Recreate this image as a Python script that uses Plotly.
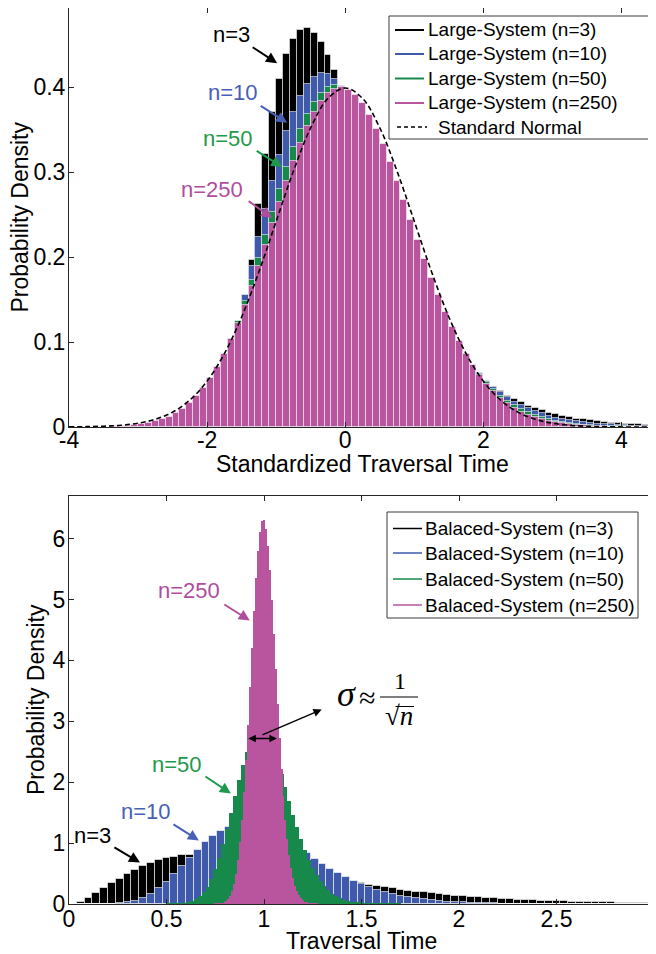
import plotly.graph_objects as go

# ---------------- data: top panel (standardized traversal time, bins of 0.1) ----------------
top_bin_width = 0.1
top_centers = [round(-3.95 + 0.1 * i, 2) for i in range(85)]

large_n3 = [
    0, 0, 0, 0, 0, 0, 0, 0, 0, 0, 0, 0, 0, 0, 0, 0, 0, 0, 0, 0, 0, 0,
    0.000, 0.015, 0.063, 0.127, 0.196, 0.262, 0.321, 0.371, 0.410, 0.439,
    0.457, 0.467, 0.469, 0.464, 0.453, 0.438, 0.420, 0.399,
    0.376, 0.353, 0.330, 0.306, 0.283, 0.260, 0.238, 0.217, 0.198, 0.180,
    0.162, 0.147, 0.132, 0.119, 0.106, 0.095, 0.085, 0.076, 0.067, 0.060,
    0.053, 0.047, 0.042, 0.037, 0.033, 0.029, 0.025, 0.022, 0.020, 0.017,
    0.015, 0.013, 0.012, 0.010, 0.009, 0.008, 0.007, 0.006, 0.005, 0.0045,
    0.004, 0.0034, 0.003, 0.0026, 0.0022]

large_n10 = [
    0, 0, 0, 0, 0, 0, 0, 0, 0, 0, 0, 0, 0, 0, 0,
    0.001, 0.003, 0.007, 0.013, 0.021,
    0.034, 0.050, 0.071, 0.096, 0.124, 0.155, 0.189, 0.223, 0.257, 0.290,
    0.320, 0.348, 0.371, 0.390, 0.404, 0.412, 0.416, 0.415, 0.410, 0.401,
    0.388, 0.373, 0.355, 0.336, 0.316, 0.294, 0.273, 0.251, 0.229, 0.209,
    0.189, 0.170, 0.152, 0.136, 0.121, 0.107, 0.094, 0.082, 0.072, 0.063,
    0.054, 0.047, 0.041, 0.035, 0.030, 0.026, 0.022, 0.019, 0.016, 0.013,
    0.011, 0.009, 0.008, 0.007, 0.006, 0.005, 0.004, 0.003, 0.003, 0.002,
    0.002, 0.0015, 0.0012, 0.001, 0.0008]

large_n50 = [
    0, 0, 0, 0, 0, 0,
    0.0002, 0.0003, 0.0005, 0.0009,
    0.0015, 0.0024, 0.0037, 0.0056, 0.0082, 0.0118, 0.0167, 0.0229, 0.0309, 0.0408,
    0.0528, 0.0672, 0.0839, 0.1030, 0.1243, 0.1477, 0.1728, 0.1991, 0.2262, 0.2535,
    0.2801, 0.3056, 0.3290, 0.3502, 0.3681, 0.3826, 0.3933, 0.3999, 0.4023, 0.4006,
    0.3949, 0.3857, 0.3731, 0.3576, 0.3397, 0.3200, 0.2989, 0.2768, 0.2544, 0.2320,
    0.2099, 0.1885, 0.1680, 0.1488, 0.1308, 0.1143, 0.0992, 0.0855, 0.0732, 0.0623,
    0.0527, 0.0444, 0.0370, 0.0308, 0.0254, 0.0209, 0.0171, 0.0139, 0.0113, 0.0090,
    0.0072, 0.0058, 0.0045, 0.0036, 0.0028, 0.0022, 0.0017, 0.0013, 0.0011, 0.0008,
    0.0006, 0.0005, 0.0004, 0.0003, 0.0002]

large_n250 = [
    0.0000, 0.0001, 0.0001, 0.0002, 0.0003, 0.0004, 0.0007, 0.0011, 0.0016, 0.0023,
    0.0033, 0.0048, 0.0067, 0.0091, 0.0123, 0.0165, 0.0217, 0.0282, 0.0363, 0.0458,
    0.0572, 0.0705, 0.0858, 0.1030, 0.1222, 0.1432, 0.1659, 0.1897, 0.2146, 0.2399,
    0.2652, 0.2898, 0.3131, 0.3347, 0.3539, 0.3702, 0.3832, 0.3927, 0.3981, 0.3995,
    0.3970, 0.3907, 0.3807, 0.3673, 0.3511, 0.3324, 0.3119, 0.2899, 0.2670, 0.2438,
    0.2206, 0.1978, 0.1759, 0.1551, 0.1356, 0.1176, 0.1011, 0.0862, 0.0730, 0.0612,
    0.0510, 0.0422, 0.0345, 0.0281, 0.0226, 0.0181, 0.0145, 0.0114, 0.0090, 0.0069,
    0.0054, 0.0042, 0.0031, 0.0025, 0.0018, 0.0013, 0.0010, 0.0007, 0.0005, 0.0004,
    0.0003, 0.0002, 0.0001, 0.0001, 0.0001]

normal_x = [-4, -3.75, -3.5, -3.25, -3, -2.75, -2.5, -2.25, -2, -1.75, -1.5, -1.25, -1,
            -0.75, -0.5, -0.25, 0, 0.25, 0.5, 0.75, 1, 1.25, 1.5, 1.75, 2, 2.25, 2.5,
            2.75, 3, 3.25, 3.5, 3.75, 4, 4.25, 4.5]
normal_y = [0.0001, 0.0004, 0.0009, 0.0020, 0.0044, 0.0091, 0.0175, 0.0317, 0.0540, 0.0863,
            0.1295, 0.1826, 0.2420, 0.3011, 0.3521, 0.3867, 0.3989, 0.3867, 0.3521, 0.3011,
            0.2420, 0.1826, 0.1295, 0.0863, 0.0540, 0.0317, 0.0175, 0.0091, 0.0044, 0.0020,
            0.0009, 0.0004, 0.0001, 0.0000, 0.0000]

# ---------------- data: bottom panel (traversal time) ----------------
bal_wide_width = 0.04
bal_wide_centers = [round(0.02 + 0.04 * i, 2) for i in range(75)]
balanced_n3 = [
    0.005, 0.041, 0.100, 0.174, 0.255, 0.338, 0.418, 0.494, 0.563, 0.623,
    0.676, 0.719, 0.753, 0.779, 0.797, 0.808, 0.812, 0.810, 0.803, 0.791,
    0.775, 0.757, 0.735, 0.711, 0.686, 0.659, 0.631, 0.603, 0.574, 0.545,
    0.516, 0.489, 0.461, 0.436, 0.409, 0.384, 0.360, 0.338, 0.315, 0.295,
    0.275, 0.256, 0.238, 0.221, 0.205, 0.190, 0.176, 0.163, 0.151, 0.139,
    0.129, 0.119, 0.110, 0.101, 0.093, 0.085, 0.079, 0.072, 0.066, 0.061,
    0.056, 0.051, 0.047, 0.043, 0.039, 0.036, 0.033, 0.030, 0.027, 0.025,
    0.023, 0.021, 0.019, 0.017, 0.016]
balanced_n10 = [
    0, 0, 0, 0.0001, 0.0009, 0.0037, 0.011, 0.027, 0.056, 0.102,
    0.168, 0.255, 0.363, 0.486, 0.620, 0.757, 0.891, 1.014, 1.121, 1.207,
    1.269, 1.306, 1.318, 1.306, 1.274, 1.224, 1.160, 1.085, 1.003, 0.918,
    0.830, 0.744, 0.660, 0.582, 0.508, 0.440, 0.379, 0.324, 0.275, 0.233,
    0.195, 0.163, 0.135, 0.112, 0.092, 0.075, 0.061, 0.050, 0.040, 0.032,
    0.026, 0.021, 0.017, 0.013, 0.010, 0.008, 0.0065, 0.005, 0.004, 0.003,
    0.0024, 0.0019, 0.0015, 0.0011, 0.0009, 0.0007, 0.0005, 0.0004, 0.0003, 0.0002,
    0.0002, 0.0001, 0.0001, 0.0001, 0.0001]

bal_n50_width = 0.02
bal_n50_centers = [round(0.51 + 0.02 * i, 2) for i in range(60)]
balanced_n50 = [
    0.0006, 0.0014, 0.0032, 0.0067, 0.0133, 0.0251, 0.0448, 0.0763, 0.124, 0.193,
    0.287, 0.412, 0.571, 0.762, 0.985, 1.234, 1.499, 1.772, 2.036, 2.282,
    2.494, 2.662, 2.779, 2.838, 2.838, 2.781, 2.675, 2.525, 2.341, 2.134,
    1.914, 1.689, 1.468, 1.257, 1.061, 0.883, 0.726, 0.588, 0.471, 0.373,
    0.291, 0.225, 0.172, 0.130, 0.097, 0.072, 0.053, 0.039, 0.028, 0.020,
    0.014, 0.010, 0.007, 0.005, 0.003, 0.002, 0.0015, 0.001, 0.0007, 0.0005]

bal_n250_width = 0.01
bal_n250_centers = [round(0.75 + 0.01 * i, 2) for i in range(53)]
balanced_n250 = [
    0.0007, 0.0015, 0.0032, 0.0066, 0.0129, 0.0242, 0.0438, 0.0763, 0.128, 0.208,
    0.324, 0.490, 0.716, 1.011, 1.383, 1.834, 2.359, 2.943, 3.565, 4.198,
    4.804, 5.349, 5.797, 6.117, 6.290, 6.306, 6.166, 5.885, 5.483, 4.990,
    4.438, 3.860, 3.282, 2.731, 2.225, 1.775, 1.387, 1.062, 0.798, 0.587,
    0.424, 0.301, 0.209, 0.143, 0.096, 0.063, 0.041, 0.026, 0.016, 0.010,
    0.006, 0.004, 0.002]

top_labels = ["Large-System (n=3)", "Large-System (n=10)", "Large-System (n=50)",
              "Large-System (n=250)", "Standard Normal"]
bottom_labels = ["Balaced-System (n=3)", "Balaced-System (n=10)", "Balaced-System (n=50)",
                 "Balaced-System (n=250)"]

# ---------------- styles ----------------
C_BLACK = "#000000"
C_BLUE = "#3F5AAB"
C_GREEN = "#17894A"
C_MAG = "#B8559E"
T_BLUE = "#4761B7"
T_GREEN = "#1F9A4C"
T_MAG = "#B04E9D"
SANS = "Liberation Sans, Arial, Helvetica, sans-serif"
SERIF = "Liberation Serif, Times New Roman, serif"
EDGE = "rgba(255,255,255,0.55)"

# the page body adds an 8px margin around the figure
OFF = 8
W, H = 648, 946
ML, MR, MT, MB = 61, 0, 0, 50


def px_x(page_x):
    return (page_x - OFF - ML) / (W - ML - MR)


def px_y(page_y):
    return (H - MB - (page_y - OFF)) / (H - MT - MB)


fig = go.Figure()

for vals, col in [(large_n3, C_BLACK), (large_n10, C_BLUE), (large_n50, C_GREEN), (large_n250, C_MAG)]:
    fig.add_trace(go.Bar(x=top_centers, y=vals, width=top_bin_width,
                         marker=dict(color=col, line=dict(color=EDGE, width=1)),
                         xaxis="x", yaxis="y", showlegend=False, hoverinfo="skip"))
fig.add_trace(go.Scatter(x=normal_x, y=normal_y, mode="lines", line_shape="spline",
                         line=dict(color="black", width=1.6, dash="5px,3px"),
                         xaxis="x", yaxis="y", showlegend=False, hoverinfo="skip"))

fig.add_trace(go.Bar(x=bal_wide_centers, y=balanced_n3, width=bal_wide_width,
                     marker=dict(color=C_BLACK, line=dict(color="rgba(255,255,255,0.6)", width=1)),
                     xaxis="x2", yaxis="y2", showlegend=False, hoverinfo="skip"))
fig.add_trace(go.Bar(x=bal_wide_centers, y=balanced_n10, width=bal_wide_width,
                     marker=dict(color=C_BLUE, line=dict(color="rgba(255,255,255,0.6)", width=1)),
                     xaxis="x2", yaxis="y2", showlegend=False, hoverinfo="skip"))
fig.add_trace(go.Bar(x=bal_n50_centers, y=balanced_n50, width=bal_n50_width,
                     marker=dict(color=C_GREEN, line=dict(width=0)),
                     xaxis="x2", yaxis="y2", showlegend=False, hoverinfo="skip"))
fig.add_trace(go.Bar(x=bal_n250_centers, y=balanced_n250, width=bal_n250_width,
                     marker=dict(color=C_MAG, line=dict(width=0)),
                     xaxis="x2", yaxis="y2", showlegend=False, hoverinfo="skip"))

axis_common = dict(showline=True, linecolor="#262626", linewidth=1, mirror="ticks",
                   ticks="inside", ticklen=5, tickcolor="#262626", showgrid=False,
                   zeroline=False, automargin=False, ticklabeloverflow="allow",
                   tickfont=dict(family=SANS, size=23, color="black"))

fig.update_layout(
    width=W, height=H,
    margin=dict(l=ML, r=MR, t=MT, b=MB, autoexpand=False),
    paper_bgcolor="white", plot_bgcolor="white",
    barmode="overlay", bargap=0, showlegend=False,
    font=dict(family=SANS, size=23, color="black"),
    xaxis=dict(domain=[0, 1], range=[-4, 4.5], anchor="y", ticklabelstandoff=-8,
               tickvals=[-4, -2, 0, 2, 4], ticktext=["-4", "-2", "0", "2", "4"],
               **axis_common),
    yaxis=dict(domain=[px_y(427), 1], range=[0, 0.493], anchor="x", ticklabelstandoff=-2,
               tickvals=[0, 0.1, 0.2, 0.3, 0.4], ticktext=["0", "0.1", "0.2", "0.3", "0.4"],
               **axis_common),
    xaxis2=dict(domain=[0, px_x(654)], range=[0, 3], anchor="y2", ticklabelstandoff=-6,
                tickvals=[0, 0.5, 1, 1.5, 2, 2.5, 3], ticktext=["0", "0.5", "1", "1.5", "2", "2.5", "3"],
                **axis_common),
    yaxis2=dict(domain=[0, px_y(496)], range=[0, 6.7], anchor="x2", ticklabelstandoff=-2,
                tickvals=[0, 1, 2, 3, 4, 5, 6], ticktext=["0", "1", "2", "3", "4", "5", "6"],
                **axis_common),
)

annotations = []
shapes = []


def label(text, x, y, color, xr, yr, size=22, family=SANS, xanchor="center", angle=0):
    annotations.append(dict(text=text, x=x, y=y, xref=xr, yref=yr, showarrow=False,
                            font=dict(family=family, size=size, color=color),
                            xanchor=xanchor, yanchor="middle", textangle=angle))


def arrow(x0, y0, x1, y1, color, xr, yr, width=2, side="end", size=1.1):
    annotations.append(dict(text="", x=x1, y=y1, ax=x0, ay=y0, xref=xr, yref=yr,
                            axref=xr, ayref=yr, showarrow=True, arrowhead=2,
                            arrowsize=size, arrowwidth=width, arrowcolor=color,
                            arrowside=side, standoff=0, startstandoff=0))


# ---- axis titles ----
label("Standardized Traversal Time", px_x(362.5), px_y(464), "black", "paper", "paper", size=23)
label("Traversal Time", px_x(361.5), px_y(941), "black", "paper", "paper", size=23)
label("Probability Density", px_x(19.5), px_y(217), "black", "paper", "paper", size=23, angle=-90)
label("Probability Density", px_x(36), px_y(700), "black", "paper", "paper", size=23, angle=-90)


# ---- legends drawn as boxes, line samples and texts (MATLAB style) ----
def legend_box(x0, y0, x1, y1):
    shapes.append(dict(type="rect", xref="paper", yref="paper",
                       x0=px_x(x0), x1=px_x(x1), y0=px_y(y0), y1=px_y(y1),
                       line=dict(color="#3a3a3a", width=1), fillcolor="white", layer="above"))


def legend_row(lx0, lx1, ty, tx, text, color, dash="solid", width=2):
    shapes.append(dict(type="line", xref="paper", yref="paper",
                       x0=px_x(lx0), x1=px_x(lx1), y0=px_y(ty), y1=px_y(ty),
                       line=dict(color=color, width=width, dash=dash), layer="above"))
    annotations.append(dict(text=text, x=px_x(tx), y=px_y(ty), xref="paper", yref="paper",
                            showarrow=False, xanchor="left", yanchor="middle",
                            font=dict(family=SANS, size=19, color="black")))


legend_box(389, 16, 653, 139)
top_rows = [30, 54, 78.5, 103, 127]
for i, (txt, col) in enumerate(zip(top_labels, [C_BLACK, C_BLUE, C_GREEN, C_MAG])):
    legend_row(395, 424, top_rows[i], 426, txt, col)
legend_row(397, 427, top_rows[4], 436, top_labels[4], "black", dash="4px,3px", width=1.5)

legend_box(387, 512, 638, 618)
bot_rows = [528.5, 553, 579, 605]
for i, (txt, col) in enumerate(zip(bottom_labels, [C_BLACK, C_BLUE, C_GREEN, C_MAG])):
    legend_row(393, 422, bot_rows[i], 423, txt, col, width=1.5)

# ---- top panel annotations ----
label("n=3", -1.652, 0.4624, C_BLACK, "x", "y")
arrow(-1.362, 0.448, -0.986, 0.428, C_BLACK, "x", "y")
label("n=10", -1.630, 0.3935, T_BLUE, "x", "y")
arrow(-1.246, 0.379, -0.841, 0.358, T_BLUE, "x", "y")
label("n=50", -1.696, 0.3394, T_GREEN, "x", "y")
arrow(-1.304, 0.326, -0.913, 0.306, T_GREEN, "x", "y")
label("n=250", -1.935, 0.2794, T_MAG, "x", "y")
arrow(-1.420, 0.267, -1.058, 0.246, T_MAG, "x", "y")

# ---- bottom panel annotations ----
label("n=250", 0.617, 5.148, T_MAG, "x2", "y2")
arrow(0.789, 4.934, 0.927, 4.655, T_MAG, "x2", "y2")
label("n=50", 0.556, 2.299, T_GREEN, "x2", "y2")
arrow(0.692, 2.110, 0.830, 1.814, T_GREEN, "x2", "y2")
label("n=10", 0.394, 1.511, T_BLUE, "x2", "y2")
arrow(0.528, 1.322, 0.666, 1.043, T_BLUE, "x2", "y2")
label("n=3", 0.120, 1.133, C_BLACK, "x2", "y2")
arrow(0.225, 0.944, 0.364, 0.682, C_BLACK, "x2", "y2")

arrow(0.912, 2.718, 1.066, 2.718, C_BLACK, "x2", "y2", width=1.5, side="end+start", size=1.0)
arrow(0.984, 2.767, 1.296, 3.194, C_BLACK, "x2", "y2", width=1.5)
label("<i>σ</i>", px_x(346), px_y(694), "black", "paper", "paper", size=36, family=SERIF)
label("≈", px_x(367), px_y(697), "black", "paper", "paper", size=30, family=SERIF)
label("1", px_x(400), px_y(681), "black", "paper", "paper", size=24, family=SERIF)
label("√<i>n</i>", px_x(399), px_y(716), "black", "paper", "paper", size=27, family=SERIF)
shapes.append(dict(type="line", xref="paper", yref="paper", x0=px_x(380), x1=px_x(418),
                   y0=px_y(697), y1=px_y(697), line=dict(color="black", width=1.2)))
# vinculum of the square root
shapes.append(dict(type="line", xref="paper", yref="paper", x0=px_x(395.5), x1=px_x(414),
                   y0=px_y(706.5), y1=px_y(706.5), line=dict(color="black", width=1)))

fig.update_layout(annotations=annotations, shapes=shapes)
fig.write_html("out.html")
